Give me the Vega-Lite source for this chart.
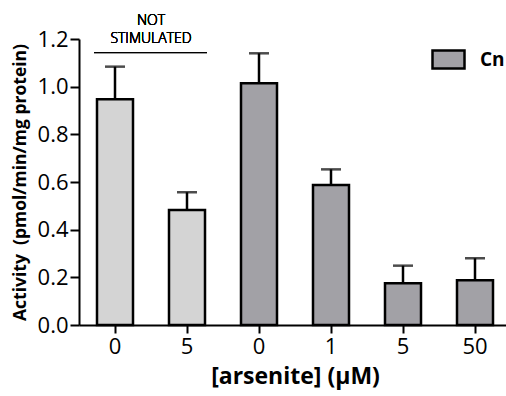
{
  "$schema": "https://vega.github.io/schema/vega-lite/v6.json",
  "width": 432,
  "height": 286,
  "autosize": "none",
  "padding": {"left": 79, "top": 39, "right": 0, "bottom": 71},
  "background": "white",
  "config": {
    "view": {"stroke": null},
    "font": "Open Sans",
    "axis": {"domainColor": "black", "tickColor": "black", "domainWidth": 2, "tickWidth": 2, "labelColor": "black", "titleColor": "black", "grid": false, "labelFont": "Open Sans", "titleFont": "Open Sans"}
  },
  "data": {
    "values": [
      {"k": "a", "group": "ns", "mean": 0.947, "upper": 1.084},
      {"k": "b", "group": "ns", "mean": 0.483, "upper": 0.557},
      {"k": "c", "group": "Cn", "mean": 1.014, "upper": 1.14},
      {"k": "d", "group": "Cn", "mean": 0.587, "upper": 0.653},
      {"k": "e", "group": "Cn", "mean": 0.175, "upper": 0.249},
      {"k": "f", "group": "Cn", "mean": 0.188, "upper": 0.28}
    ]
  },
  "encoding": {
    "x": {
      "field": "k", "type": "nominal",
      "scale": {"domain": ["a","b","c","d","e","f"], "paddingInner": 0.5, "paddingOuter": 0.25},
      "axis": {"title": "[arsenite] (µM)", "labelExpr": "{'a':'0','b':'5','c':'0','d':'1','e':'5','f':'50'}[datum.value]", "labelAngle": 0, "labelFontSize": 22, "tickSize": 8, "labelPadding": 3, "titleFontSize": 23, "titleFontWeight": "bold", "titlePadding": 8}
    }
  },
  "layer": [
    {
      "mark": {"type": "bar", "stroke": "black", "strokeWidth": 2.5},
      "encoding": {
        "y": {"field": "mean", "type": "quantitative", "scale": {"domain": [0, 1.2], "nice": false},
          "axis": {"title": "Activity\u00a0\u00a0(pmol/min/mg protein)", "values": [0, 0.2, 0.4, 0.6, 0.8, 1.0, 1.2], "format": ".1f", "labelFontSize": 22, "tickSize": 9, "labelPadding": 2, "titleFontSize": 17.5, "titleFontWeight": "bold", "titlePadding": 8}},
        "fill": {"field": "group", "type": "nominal",
          "scale": {"domain": ["ns", "Cn"], "range": ["#d4d4d4", "#a2a1a6"]},
          "legend": {"orient": "none", "legendX": 352, "legendY": 3, "title": null, "values": ["Cn"], "symbolType": "M-1,-0.5625H1V0.5625H-1Z", "symbolSize": 1024, "symbolStrokeColor": "black", "symbolStrokeWidth": 2.5, "symbolOpacity": 1, "labelFont": "Open Sans", "labelFontWeight": "bold", "labelFontSize": 19, "labelColor": "black", "labelOffset": 14, "padding": 0}}
      }
    },
    {
      "mark": {"type": "rule", "strokeWidth": 2.5, "color": "black"},
      "encoding": {
        "y": {"field": "mean", "type": "quantitative"},
        "y2": {"field": "upper"}
      }
    },
    {
      "mark": {"type": "tick", "color": "black", "size": 20, "thickness": 2.5},
      "encoding": {
        "y": {"field": "upper", "type": "quantitative"}
      }
    },
    {
      "mark": {"type": "rule", "strokeWidth": 1, "color": "black", "xOffset": -21, "x2Offset": 20},
      "encoding": {
        "x": {"datum": "a"},
        "x2": {"datum": "b"},
        "y": {"datum": 1.143}
      }
    },
    {
      "mark": {"type": "text", "text": ["NOT", "STIMULATED"], "font": "Open Sans", "fontSize": 14, "fontWeight": 300, "color": "black", "baseline": "alphabetic", "lineHeight": 18, "xOffset": 36},
      "encoding": {
        "x": {"datum": "a"},
        "y": {"datum": 1.26}
      }
    }
  ]
}
